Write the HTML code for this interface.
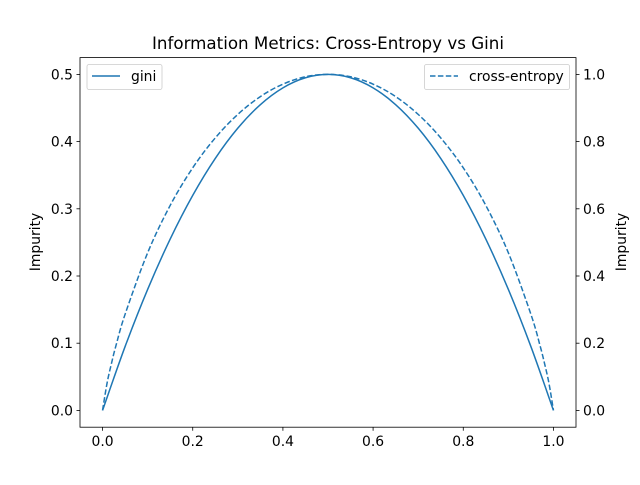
<!DOCTYPE html>
<html><head><meta charset="utf-8"><style>
body{margin:0;background:#fff}
svg text{font-family:"DejaVu Sans","Liberation Sans",sans-serif}
</style></head><body>
<svg id="c" width="640" height="480" xmlns="http://www.w3.org/2000/svg"></svg>
<script>
const giniX=[0,0.05,0.1,0.15,0.2,0.25,0.3,0.35,0.4,0.45,0.5,0.55,0.6,0.65,0.7,0.75,0.8,0.85,0.9,0.95,1];
const giniY=[0,0.095,0.18,0.255,0.32,0.375,0.42,0.455,0.48,0.495,0.5,0.495,0.48,0.455,0.42,0.375,0.32,0.255,0.18,0.095,0];
const ceX=[0,0.01,0.02,0.03,0.05,0.1,0.15,0.2,0.25,0.3,0.35,0.4,0.45,0.5,0.55,0.6,0.65,0.7,0.75,0.8,0.85,0.9,0.95,0.97,0.98,0.99,1];
const ceY=[0,0.081,0.141,0.194,0.286,0.469,0.61,0.722,0.811,0.881,0.934,0.971,0.993,1,0.993,0.971,0.934,0.881,0.811,0.722,0.61,0.469,0.286,0.194,0.141,0.081,0];
const xTicks=[0,0.2,0.4,0.6,0.8,1.0];
const xTickLabels=["0.0","0.2","0.4","0.6","0.8","1.0"];
const yLTicks=[0,0.1,0.2,0.3,0.4,0.5];
const yLTickLabels=["0.0","0.1","0.2","0.3","0.4","0.5"];
const yRTicks=[0,0.2,0.4,0.6,0.8,1.0];
const yRTickLabels=["0.0","0.2","0.4","0.6","0.8","1.0"];

const L=80,R=576,T=57.6,B=427.2;
const FS=13.9;
const sx=v=>L+(v+0.05)/1.1*(R-L);
const syL=v=>B-(v+0.025)/0.55*(B-T);
const syR=v=>B-(v+0.05)/1.1*(B-T);
const svg=document.getElementById('c');
const NS="http://www.w3.org/2000/svg";
function mk(tag,attrs,parent){const e=document.createElementNS(NS,tag);for(const k in attrs)e.setAttribute(k,attrs[k]);(parent||svg).appendChild(e);return e;}
function txt(s,x,y,anchor,size,extra){const t=mk('text',Object.assign({x:x,y:y,'text-anchor':anchor,'font-size':size,fill:'#000'},extra||{}));t.textContent=s;return t;}
function smooth(pts){let d='M'+pts[0][0]+','+pts[0][1];
 for(let i=0;i<pts.length-1;i++){const p0=pts[Math.max(0,i-1)],p1=pts[i],p2=pts[i+1],p3=pts[Math.min(pts.length-1,i+2)];
  const c1=[p1[0]+(p2[0]-p0[0])/6,p1[1]+(p2[1]-p0[1])/6],c2=[p2[0]-(p3[0]-p1[0])/6,p2[1]-(p3[1]-p1[1])/6];
  d+=' C'+c1[0]+','+c1[1]+' '+c2[0]+','+c2[1]+' '+p2[0]+','+p2[1];}
 return d;}

let t=txt("Information Metrics: Cross-Entropy vs Gini",328,49,'middle',16.7);



let g=mk('path',{d:smooth(giniX.map((x,i)=>[sx(x),syL(giniY[i])])),fill:'none',stroke:'#1f77b4','stroke-width':1.5});


let ce=mk('path',{d:smooth(ceX.map((x,i)=>[sx(x),syR(ceY[i])])),fill:'none',stroke:'#1f77b4','stroke-width':1.5,'stroke-dasharray':'5.5,2.4'});



let fr=mk('rect',{x:L,y:T,width:R-L,height:B-T,fill:'none',stroke:'#000','stroke-width':0.8});



xTicks.forEach((v,i)=>{mk('line',{x1:sx(v),x2:sx(v),y1:B,y2:B+3.5,stroke:'#000','stroke-width':0.8});
 const l=txt(xTickLabels[i],sx(v),B+19,'middle',FS);
 
 });
yLTicks.forEach((v,i)=>{mk('line',{x1:L-3.5,x2:L,y1:syL(v),y2:syL(v),stroke:'#000','stroke-width':0.8});
 const l=txt(yLTickLabels[i],L-7,syL(v)+5,'end',FS);
 
 });
yRTicks.forEach((v,i)=>{mk('line',{x1:R,x2:R+3.5,y1:syR(v),y2:syR(v),stroke:'#000','stroke-width':0.8});
 const l=txt(yRTickLabels[i],R+7,syR(v)+5,'start',FS);
 
 });

let yl=txt("Impurity",40,242,'middle',FS,{transform:'rotate(-90 40 242)'});


let yr=txt("Impurity",626,242,'middle',FS,{transform:'rotate(-90 626 242)'});



let lg1=mk('g',{});


mk('rect',{x:87,y:64.5,width:75,height:25,rx:2,fill:'#fff',stroke:'#ccc','stroke-width':0.8},lg1);
mk('line',{x1:92,x2:120,y1:76,y2:76,stroke:'#1f77b4','stroke-width':1.5},lg1);
lg1.appendChild(txt("gini",131,81,'start',FS));
let lg2=mk('g',{});


mk('rect',{x:424.5,y:64.5,width:145,height:25,rx:2,fill:'#fff',stroke:'#ccc','stroke-width':0.8},lg2);
mk('line',{x1:430,x2:458,y1:76,y2:76,stroke:'#1f77b4','stroke-width':1.5,'stroke-dasharray':'5.5,2.4'},lg2);
lg2.appendChild(txt("cross-entropy",469,81,'start',FS));
</script>
</body></html>
